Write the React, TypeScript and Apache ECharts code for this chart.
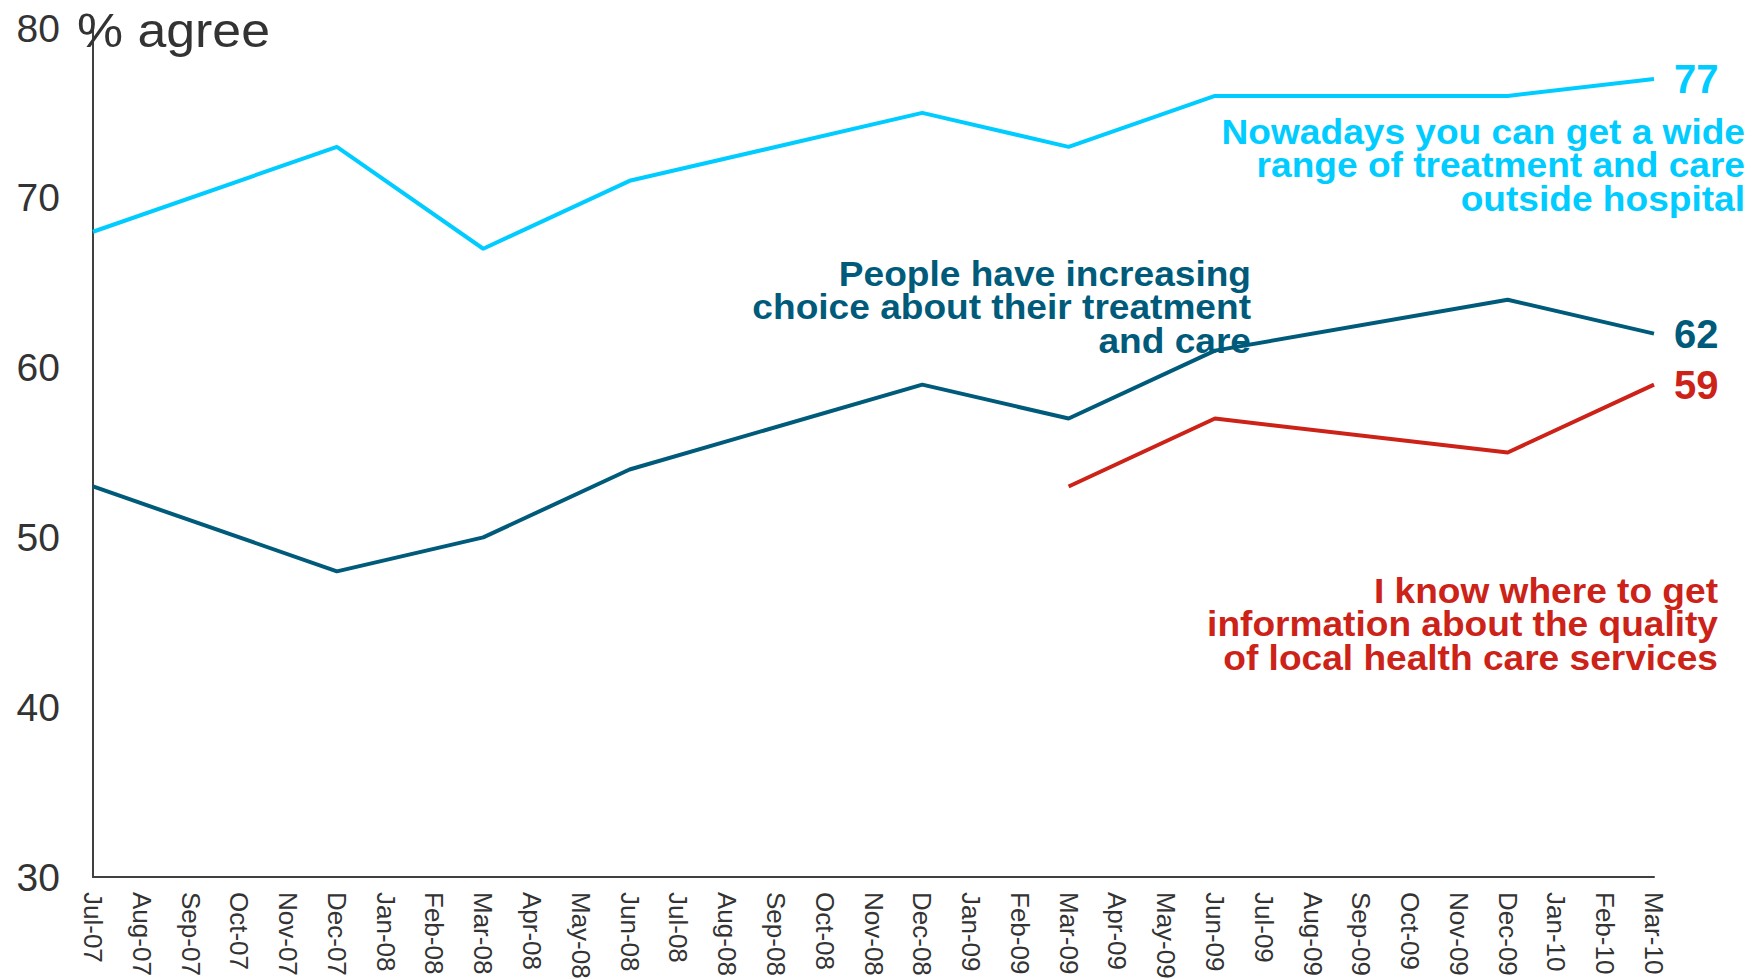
import React, { useEffect, useRef } from "react";
import * as echarts from "echarts";

const months = [
  "Jul-07", "Aug-07", "Sep-07", "Oct-07", "Nov-07", "Dec-07",
  "Jan-08", "Feb-08", "Mar-08", "Apr-08", "May-08", "Jun-08",
  "Jul-08", "Aug-08", "Sep-08", "Oct-08", "Nov-08", "Dec-08",
  "Jan-09", "Feb-09", "Mar-09", "Apr-09", "May-09", "Jun-09",
  "Jul-09", "Aug-09", "Sep-09", "Oct-09", "Nov-09", "Dec-09",
  "Jan-10", "Feb-10", "Mar-10",
];

const surveyMonths = ["Jul-07", "Dec-07", "Mar-08", "Jun-08", "Dec-08", "Mar-09", "Jun-09", "Dec-09", "Mar-10"];
const wideRangeValues = [68, 73, 67, 71, 75, 73, 76, 76, 77];
const choiceValues = [53, 48, 50, 54, 59, 57, 61, 64, 62];

const infoMonths = ["Mar-09", "Jun-09", "Dec-09", "Mar-10"];
const infoValues = [53, 57, 55, 59];

const yTicks = { min: 30, max: 80, interval: 10 };

const FONT = "'Liberation Sans', Arial, Helvetica, sans-serif";
const CYAN = "#00CCFF";
const TEAL = "#005B7B";
const RED = "#CC2218";
const AXIS = "#333333";

const wideLabel = [
  "Nowadays you can get a wide",
  "range of treatment and care",
  "outside hospital",
];
const choiceLabel = [
  "People have increasing",
  "choice about their treatment",
  "and care",
];
const infoLabel = [
  "I know where to get",
  "information about the quality",
  "of local health care services",
];

function pairs(cats: string[], vals: number[]) {
  return cats.map((c, i) => [c, vals[i]]);
}

const ANN_SIZE = 35;
const ANN_LH = 33.5;
const ANN_SX = 1.06;

function block(lines: string[], right: number, firstBaseline: number, color: string) {
  return {
    type: "text",
    x: right,
    y: firstBaseline - ANN_LH / 2 - ANN_SIZE * 0.35,
    scaleX: ANN_SX,
    style: {
      text: lines.join("\n"),
      fill: color,
      font: `bold ${ANN_SIZE}px ${FONT}`,
      lineHeight: ANN_LH,
      textAlign: "right",
      textVerticalAlign: "top",
    },
    z: 10,
  };
}

export default function App() {
  const ref = useRef<HTMLDivElement>(null);

  useEffect(() => {
    if (!ref.current) return;
    const chart = echarts.init(ref.current, undefined, { renderer: "svg" });
    const endLabel = (color: string) => ({
      show: true,
      formatter: (p: any) => String(p.value[1]),
      color,
      fontFamily: FONT,
      fontWeight: "bold",
      fontSize: 40,
      distance: 20,
    });
    const option: any = {
      animation: false,
      backgroundColor: "#ffffff",
      grid: {
        left: 93,
        right: 104,
        top: 28,
        bottom: 102,
        containLabel: false,
        outerBoundsMode: "none",
      },
      xAxis: {
        type: "category",
        data: months,
        boundaryGap: false,
        axisLine: { show: true, lineStyle: { color: "#404040", width: 2 } },
        axisTick: { show: false },
        axisLabel: {
          interval: 0,
          rotate: -90,
          margin: 15,
          color: AXIS,
          fontFamily: FONT,
          fontSize: 26,
        },
        splitLine: { show: false },
      },
      yAxis: {
        type: "value",
        min: yTicks.min,
        max: yTicks.max,
        interval: yTicks.interval,
        axisLine: { show: true, lineStyle: { color: "#404040", width: 2 } },
        axisTick: { show: false },
        axisLabel: {
          color: AXIS,
          fontFamily: FONT,
          fontSize: 39,
          margin: 33,
        },
        splitLine: { show: false },
      },
      series: [
        {
          name: "wide",
          type: "line",
          data: pairs(surveyMonths, wideRangeValues),
          showSymbol: false,
          symbol: "none",
          lineStyle: { color: CYAN, width: 4 },
          itemStyle: { color: CYAN },
          endLabel: endLabel(CYAN),
          z: 3,
        },
        {
          name: "choice",
          type: "line",
          data: pairs(surveyMonths, choiceValues),
          showSymbol: false,
          symbol: "none",
          lineStyle: { color: TEAL, width: 4 },
          itemStyle: { color: TEAL },
          endLabel: endLabel(TEAL),
          z: 3,
        },
        {
          name: "info",
          type: "line",
          data: pairs(infoMonths, infoValues),
          showSymbol: false,
          symbol: "none",
          lineStyle: { color: RED, width: 4 },
          itemStyle: { color: RED },
          endLabel: endLabel(RED),
          z: 3,
        },
      ],
      graphic: [
        {
          type: "text",
          x: 77,
          y: 47 - 48 * 0.35,
          scaleX: 1.08,
          style: {
            text: "% agree",
            fill: AXIS,
            font: `48px ${FONT}`,
            textAlign: "left",
            textVerticalAlign: "middle",
          },
          z: 10,
        },
        block(wideLabel, 1745, 144, CYAN),
        block(choiceLabel, 1251, 286, TEAL),
        block(infoLabel, 1718, 603, RED),
      ],
    };
    chart.setOption(option);
    return () => chart.dispose();
  }, []);

  return (
    <div
      ref={ref}
      style={{ position: "absolute", left: 0, top: 0, width: 1758, height: 979 }}
    />
  );
}
